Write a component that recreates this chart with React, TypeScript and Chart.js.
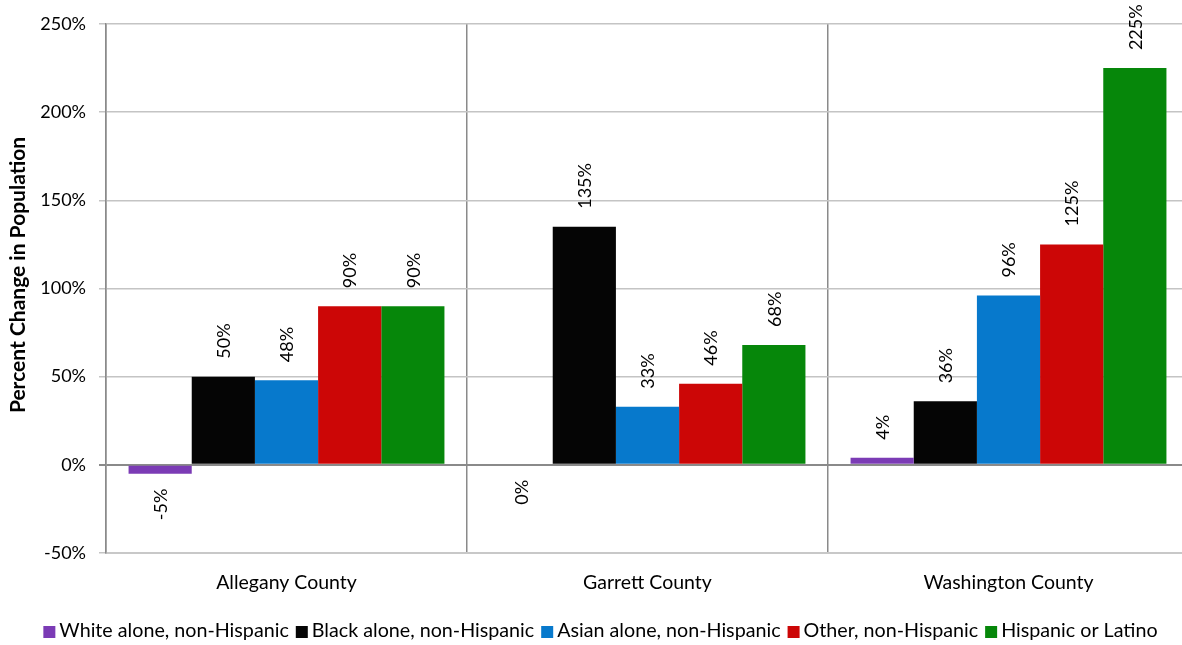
import React, { useEffect, useRef } from "react";
import { Chart, registerables } from "chart.js";

Chart.register(...registerables);

const categories = ["Allegany County", "Garrett County", "Washington County"];
const seriesNames = [
  "White alone, non-Hispanic",
  "Black alone, non-Hispanic",
  "Asian alone, non-Hispanic",
  "Other, non-Hispanic",
  "Hispanic or Latino",
];
const whiteValues = [-5, 0, 4];
const blackValues = [50, 135, 36];
const asianValues = [48, 33, 96];
const otherValues = [90, 46, 125];
const hispanicValues = [90, 68, 225];
const seriesColors = ["#7b3bb5", "#050505", "#0779cc", "#cc0606", "#06870a"];
const yTicks = [-50, 0, 50, 100, 150, 200, 250];
const yTitle = "Percent Change in Population";

const FONT = "Lato, 'Noto Sans', sans-serif";

const labelPlugin = {
  id: "rotatedLabels",
  afterDatasetsDraw(chart: any) {
    const ctx = chart.ctx;
    ctx.save();
    ctx.font = `18px ${FONT}`;
    ctx.fillStyle = "#000";
    ctx.textBaseline = "middle";
    chart.data.datasets.forEach((ds: any, di: number) => {
      const meta = chart.getDatasetMeta(di);
      meta.data.forEach((el: any, i: number) => {
        const v = ds.data[i];
        const text = `${v}%`;
        ctx.save();
        if (v > 0) {
          ctx.translate(el.x, Math.min(el.y, el.base) - 18);
          ctx.rotate(-Math.PI / 2);
          ctx.textAlign = "left";
        } else {
          ctx.translate(el.x, Math.max(el.y, el.base) + 15);
          ctx.rotate(-Math.PI / 2);
          ctx.textAlign = "right";
        }
        ctx.fillText(text, 0, 1);
        ctx.restore();
      });
    });
    ctx.restore();
  },
};

const titleAndLegendPlugin = {
  id: "titleAndLegend",
  afterDraw(chart: any) {
    const ctx = chart.ctx;
    ctx.save();
    // y axis title
    ctx.font = `bold 21px ${FONT}`;
    ctx.fillStyle = "#000";
    ctx.textAlign = "center";
    ctx.textBaseline = "middle";
    ctx.translate(18, 275);
    ctx.rotate(-Math.PI / 2);
    ctx.fillText(yTitle, 0, 0);
    ctx.restore();

    // legend
    ctx.save();
    ctx.font = `19.7px ${FONT}`;
    ctx.textBaseline = "middle";
    ctx.textAlign = "left";
    const box = 12;
    const gapBoxText = 4;
    const gapItems = 7;
    const items = chart.data.datasets.map((ds: any) => ({
      text: ds.label,
      color: ds.backgroundColor,
      w: ctx.measureText(ds.label).width,
    }));
    const total =
      items.reduce((s: number, it: any) => s + box + gapBoxText + it.w, 0) + gapItems * (items.length - 1);
    let x = 600.5 - total / 2;
    const cy = 631;
    items.forEach((it: any) => {
      ctx.fillStyle = it.color;
      ctx.fillRect(x, cy - box / 2 + 1, box, box);
      x += box + gapBoxText;
      ctx.fillStyle = "#000";
      ctx.fillText(it.text, x, cy);
      x += it.w + gapItems;
    });
    ctx.restore();
  },
};

export default function App() {
  const ref = useRef<HTMLCanvasElement>(null);
  useEffect(() => {
    document.body.style.margin = "0";
    const allValues = [whiteValues, blackValues, asianValues, otherValues, hispanicValues];
    const chart = new Chart(ref.current!, {
      type: "bar",
      data: {
        labels: categories,
        datasets: seriesNames.map((name, i) => ({
          label: name,
          data: allValues[i],
          backgroundColor: seriesColors[i],
          borderWidth: 0,
          categoryPercentage: 0.875,
          barPercentage: 1,
        })),
      },
      options: {
        responsive: false,
        animation: false,
        layout: { padding: { left: 0, right: 11, top: 24, bottom: 47 } },
        plugins: {
          tooltip: { enabled: false },
          legend: { display: false },
        },
        scales: {
          x: {
            grid: { offset: true, color: "#8a8a8a", drawTicks: false, lineWidth: 1.5 },
            border: { color: "#c8c8c8", width: 2 },
            ticks: { color: "#000", padding: 18, font: { family: FONT, size: 19.5 } },
            afterFit: (axis: any) => {
              axis.height = 45;
            },
          },
          y: {
            min: -50,
            max: 250,
            afterBuildTicks: (axis: any) => {
              axis.ticks = yTicks.map((v) => ({ value: v }));
            },
            grid: {
              color: (c: any) => (c.tick && c.tick.value === 0 ? "#8a8a8a" : "#c4c4c4"),
              lineWidth: (c: any) => (c.tick && c.tick.value === 0 ? 2 : 1.5),
              tickLength: 7,
            },
            border: { color: "#8a8a8a", width: 1.5 },
            ticks: {
              color: "#000",
              padding: 13,
              font: { family: FONT, size: 18 },
              callback: (v: any) => `${v}%`,
            },
            afterFit: (axis: any) => {
              axis.width = 106;
            },
          },
        },
      },
      plugins: [labelPlugin, titleAndLegendPlugin],
    });
    return () => chart.destroy();
  }, []);
  return (
    <div style={{ position: "fixed", left: 0, top: 0, width: 1182, height: 645, overflow: "hidden", background: "#fff" }}>
      <canvas ref={ref} width={1200} height={645} />
    </div>
  );
}
